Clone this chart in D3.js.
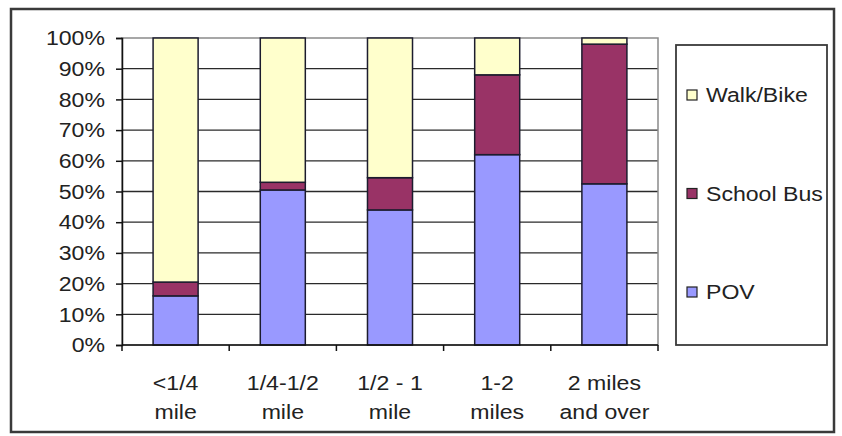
<!DOCTYPE html>
<html>
<head>
<meta charset="utf-8">
<script src="https://cdn.jsdelivr.net/npm/d3@7"></script>
<style>
  html, body { margin: 0; padding: 0; background: #fff; }
  svg { display: block; font-family: "Liberation Sans", Arial, sans-serif; }
</style>
</head>
<body>
<svg id="chart" width="842" height="436"></svg>
<script>
// Travel mode share by distance to school (percent of trips)
const categories = ["<1/4 mile", "1/4-1/2 mile", "1/2 - 1 mile", "1-2 miles", "2 miles and over"];
const categoryLines = [["<1/4", "mile"], ["1/4-1/2", "mile"], ["1/2 - 1", "mile"], ["1-2", "miles"], ["2 miles", "and over"]];
const seriesNames = ["POV", "School Bus", "Walk/Bike"];
const povValues = [16, 50.5, 44, 62, 52.5];
const schoolBusValues = [4.5, 2.5, 10.5, 26, 45.5];
const walkBikeValues = [79.5, 47, 45.5, 12, 2];
const yTicks = [0, 10, 20, 30, 40, 50, 60, 70, 80, 90, 100];
const colors = { "POV": "#9999ff", "School Bus": "#993366", "Walk/Bike": "#ffffcc" };

// slightly wide lettering
const FONT_SIZE = 21;
const STRETCH = 1.1;

const table = categories.map((c, i) => ({
  category: c,
  "POV": povValues[i],
  "School Bus": schoolBusValues[i],
  "Walk/Bike": walkBikeValues[i]
}));
const stacked = d3.stack().keys(seriesNames)(table);

const svg = d3.select("#chart");
const plot = { left: 122, right: 658, top: 38, bottom: 345 };

const x = d3.scaleBand()
  .domain(categories)
  .range([plot.left, plot.right])
  .paddingInner(0.58)
  .paddingOuter(0.29);
const y = d3.scaleLinear().domain([0, 100]).range([plot.bottom, plot.top]);

// outer chart frame
svg.append("rect")
  .attr("x", 11).attr("y", 9).attr("width", 823).attr("height", 423)
  .attr("fill", "#fff").attr("stroke", "#3a3a3a").attr("stroke-width", 2.5);

// horizontal gridlines
svg.append("g").selectAll("line")
  .data(yTicks.filter(t => t > 0 && t < 100))
  .join("line")
  .attr("x1", plot.left).attr("x2", plot.right)
  .attr("y1", d => y(d)).attr("y2", d => y(d))
  .attr("stroke", "#2a2a2a").attr("stroke-width", 1.3);

// plot area border
svg.append("rect")
  .attr("x", plot.left).attr("y", y(100))
  .attr("width", plot.right - plot.left).attr("height", y(0) - y(100))
  .attr("fill", "none").attr("stroke", "#8a8a8a").attr("stroke-width", 1.5);

// stacked bars
svg.append("g").selectAll("g")
  .data(stacked)
  .join("g")
  .attr("fill", d => colors[d.key])
  .selectAll("rect")
  .data(d => d)
  .join("rect")
  .attr("x", d => x(d.data.category))
  .attr("width", x.bandwidth())
  .attr("y", d => y(d[1]))
  .attr("height", d => y(d[0]) - y(d[1]))
  .attr("stroke", "#1c1c2e").attr("stroke-width", 1.5);

// y axis
const yAxis = svg.append("g")
  .attr("transform", `translate(${plot.left},0)`)
  .call(d3.axisLeft(y).tickValues(yTicks).tickFormat(d => d + "%").tickSize(6).tickPadding(12));
yAxis.select(".domain").attr("stroke", "#111").attr("stroke-width", 1.5);
yAxis.selectAll(".tick line").attr("stroke", "#111").attr("stroke-width", 1.5);
yAxis.selectAll(".tick text")
  .attr("x", 0)
  .attr("transform", `translate(-17,0) scale(${STRETCH},1)`)
  .attr("font-size", FONT_SIZE).attr("fill", "#222")
  .attr("font-family", "'Liberation Sans', Arial, sans-serif");

// x axis with ticks at category boundaries
const xAxis = svg.append("g");
xAxis.append("line")
  .attr("x1", plot.left).attr("x2", plot.right)
  .attr("y1", plot.bottom).attr("y2", plot.bottom)
  .attr("stroke", "#111").attr("stroke-width", 1.5);
xAxis.selectAll("line.tick")
  .data(categories.map((c, i) => plot.left + i * x.step()).concat([plot.right]))
  .join("line")
  .attr("class", "tick")
  .attr("x1", d => d).attr("x2", d => d)
  .attr("y1", plot.bottom).attr("y2", plot.bottom + 6)
  .attr("stroke", "#111").attr("stroke-width", 1.5);

// category labels (two lines each)
const catText = svg.append("g").selectAll("text")
  .data(categories)
  .join("text")
  .attr("text-anchor", "middle")
  .attr("font-size", FONT_SIZE)
  .attr("fill", "#222")
  .attr("transform", c => `translate(${x(c) + x.bandwidth() / 2},0) scale(${STRETCH},1)`);
catText.each(function (c, i) {
  d3.select(this).selectAll("tspan")
    .data(categoryLines[i])
    .join("tspan")
    .attr("x", 0)
    .attr("y", (d, j) => 390 + j * 29)
    .text(d => d);
});

// legend
svg.append("rect")
  .attr("x", 676).attr("y", 45).attr("width", 151).attr("height", 300)
  .attr("fill", "#fff").attr("stroke", "#3a3a3a").attr("stroke-width", 1.8);
const legendOrder = ["Walk/Bike", "School Bus", "POV"];
const legendY = d3.scalePoint().domain(legendOrder).range([95, 292]);
const legendItems = svg.append("g").selectAll("g")
  .data(legendOrder)
  .join("g")
  .attr("transform", d => `translate(687,${legendY(d)})`);
legendItems.append("rect")
  .attr("x", 0).attr("y", -5).attr("width", 10).attr("height", 10)
  .attr("fill", d => colors[d]).attr("stroke", "#222").attr("stroke-width", 1.2);
legendItems.append("text")
  .attr("x", 0).attr("dy", "0.35em")
  .attr("transform", `translate(19,0) scale(${STRETCH},1)`)
  .attr("font-size", FONT_SIZE).attr("fill", "#222")
  .text(d => d);
</script>
</body>
</html>
